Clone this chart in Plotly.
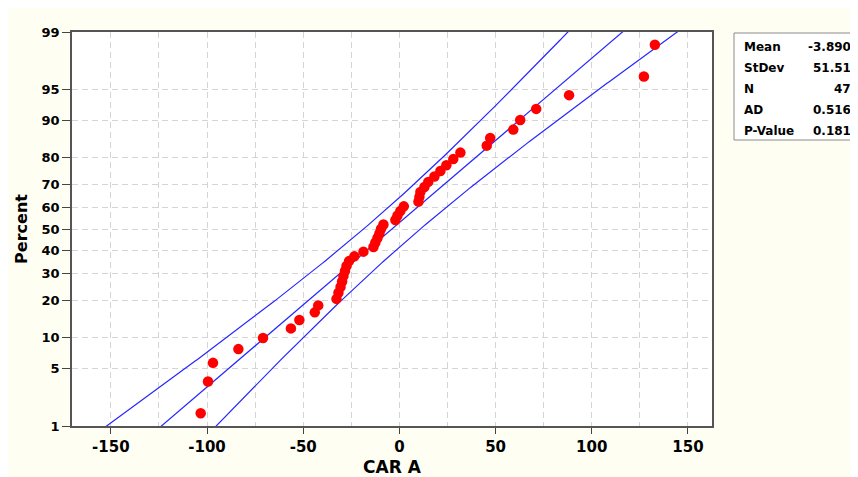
import plotly.graph_objects as go
from statistics import NormalDist

# ---- data (sorted CAR A values) ----
car_a = [-103.3, -99.5, -96.9, -83.7, -70.9, -56.4, -52.0, -44.0, -42.2,
         -32.7, -31.7, -30.6, -29.8, -29.1, -28.3, -27.5, -26.2, -23.4,
         -18.7, -13.5, -12.5, -11.4, -10.4, -9.6, -8.3, -2.1, -1.0, 0.5,
         2.3, 9.9, 10.4, 10.9, 13.0, 15.0, 18.2, 21.3, 24.4, 28.0, 31.7,
         45.4, 47.2, 59.2, 62.8, 71.1, 88.2, 127.1, 132.8]

percent_ticks = [1, 5, 10, 20, 30, 40, 50, 60, 70, 80, 90, 95, 99]
x_ticks = [-150, -100, -50, 0, 50, 100, 150]
x_minor = [-125, -75, -25, 25, 75, 125]

MEAN = -3.890
STDEV = 51.51
N = 47
stat_labels = ["Mean", "StDev", "N", "AD", "P-Value"]
stat_values = ["-3.890", "51.51", "47", "0.516", "0.181"]

nd = NormalDist()
xs = sorted(car_a)
n = len(xs)
# Benard median-rank plotting positions (Minitab)
zs = [nd.inv_cdf((i + 1 - 0.3) / (n + 0.4)) for i in range(n)]

# fitted line and 95% CI bands (model curves)
zgrid = [-2.6 + k * 0.02 for k in range(261)]
fit = [MEAN + STDEV * z for z in zgrid]
zc = nd.inv_cdf(0.975)
half = [zc * ((STDEV ** 2 / N) * (1 + z * z / 2)) ** 0.5 for z in zgrid]
lower = [f - h for f, h in zip(fit, half)]
upper = [f + h for f, h in zip(fit, half)]

BLUE = "#2626FF"
fig = go.Figure()
for xline in (lower, fit, upper):
    fig.add_trace(go.Scatter(x=xline, y=zgrid, mode="lines",
                             line=dict(color=BLUE, width=1.2),
                             hoverinfo="skip", showlegend=False))
fig.add_trace(go.Scatter(x=xs, y=zs, mode="markers",
                         marker=dict(color="#FF0000", size=10.5, line=dict(width=0)),
                         showlegend=False))

zlim = nd.inv_cdf(0.99)
FONT = "DejaVu Sans"
fig.update_layout(
    width=850, height=469,
    margin=dict(l=64, r=146, t=24, b=51),
    paper_bgcolor="#FFFEF3",
    plot_bgcolor="#FFFFFF",
    font=dict(family=FONT, color="#000000"),
    xaxis=dict(
        range=[-170.2, 162.5],
        automargin=False,
        tickvals=x_ticks, ticktext=[str(v) for v in x_ticks],
        tickfont=dict(size=15, family=FONT, weight="bold"),
        ticks="outside", ticklen=6, tickcolor="#444444", tickwidth=1,
        showline=True, linecolor="#555555", linewidth=1.5, mirror=True,
        showgrid=True, gridcolor="#D4D4D4", griddash="6px,4px", gridwidth=1,
        minor=dict(tickvals=x_minor, showgrid=True, gridcolor="#D4D4D4",
                   griddash="6px,4px", ticks=""),
        zeroline=False,
        title=dict(text="CAR A", font=dict(size=17, family=FONT, weight="bold"),
                   standoff=12),
    ),
    yaxis=dict(
        range=[-zlim, zlim],
        automargin=False,
        tickvals=[nd.inv_cdf(p / 100) for p in percent_ticks],
        ticktext=[str(p) for p in percent_ticks],
        tickfont=dict(size=13, family=FONT, weight="bold"),
        ticks="outside", ticklen=8, tickcolor="#444444", tickwidth=1,
        showline=True, linecolor="#555555", linewidth=1.5, mirror=True,
        showgrid=True, gridcolor="#D4D4D4", griddash="6px,4px", gridwidth=1,
        zeroline=False,
        title=dict(text="Percent", font=dict(size=16, family=FONT, weight="bold"),
                   standoff=10),
    ),
)

# stats box (paper coordinates relative to the plot area)
def px_x(p):
    return (p - 72) / 640.0

def px_y(p):
    return (426 - p) / 394.0

fig.add_shape(type="rect", xref="paper", yref="paper",
              x0=px_x(734), x1=px_x(856), y0=px_y(140), y1=px_y(33),
              line=dict(color="#8A8A8A", width=1), fillcolor="#FFFFFF", layer="below")
row_y = [47, 68, 89, 110, 131]
for lab, val, ry in zip(stat_labels, stat_values, row_y):
    fig.add_annotation(xref="paper", yref="paper", x=px_x(742), y=px_y(ry),
                       text=f"<b>{lab}</b>", showarrow=False, xanchor="left",
                       yanchor="middle", font=dict(size=12, family=FONT))
    fig.add_annotation(xref="paper", yref="paper", x=px_x(853), y=px_y(ry),
                       text=f"<b>{val}</b>", showarrow=False, xanchor="right",
                       yanchor="middle", font=dict(size=12, family=FONT))

fig.write_html("out.html")
